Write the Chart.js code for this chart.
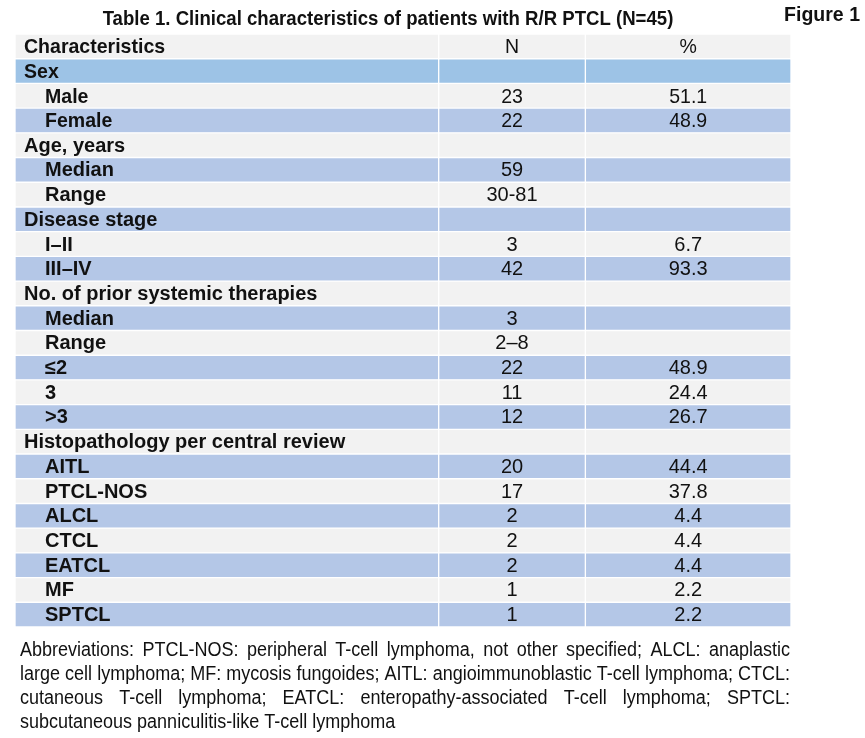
<!DOCTYPE html>
<html>
<head>
<meta charset="utf-8">
<script src="https://cdn.jsdelivr.net/npm/chart.js@4.4.1/dist/chart.umd.min.js"></script>
<style>
  html, body { margin: 0; padding: 0; background: #fff; }
</style>
</head>
<body>
<canvas id="tbl" width="865" height="738"></canvas>
<script>
// table content, one entry per row (row 0 is the header)
const rowLabels = ['Characteristics', 'Sex', 'Male', 'Female', 'Age, years', 'Median', 'Range',
  'Disease stage', 'I–II', 'III–IV', 'No. of prior systemic therapies', 'Median', 'Range',
  '≤2', '3', '>3', 'Histopathology per central review', 'AITL', 'PTCL-NOS', 'ALCL', 'CTCL',
  'EATCL', 'MF', 'SPTCL'];
const nValues = ['N', '', '23', '22', '', '59', '30-81', '', '3', '42', '', '3', '2–8',
  '22', '11', '12', '', '20', '17', '2', '2', '2', '1', '1'];
const pctValues = ['%', '', '51.1', '48.9', '', '', '', '', '6.7', '93.3', '', '', '',
  '48.9', '24.4', '26.7', '', '44.4', '37.8', '4.4', '4.4', '4.4', '2.2', '2.2'];
const sectionRows = [0, 1, 4, 7, 10, 16];

const titleText = 'Table 1. Clinical characteristics of patients with R/R PTCL (N=45)';
const figureText = 'Figure 1';
const footnoteLines = [
  'Abbreviations: PTCL-NOS: peripheral T-cell lymphoma, not other specified; ALCL: anaplastic',
  'large cell lymphoma; MF: mycosis fungoides; AITL: angioimmunoblastic T-cell lymphoma; CTCL:',
  'cutaneous T-cell lymphoma; EATCL: enteropathy-associated T-cell lymphoma; SPTCL:',
  'subcutaneous panniculitis-like T-cell lymphoma'
];

// column edges on a 0-100 x scale
const colEdges = [0, 54.6, 73.5, 100];
const FONT = '"Liberation Sans", Arial, sans-serif';

function rowFill(i) {
  if (i === 1) return '#9dc3e6';
  return i % 2 ? '#b4c7e7' : '#f2f2f2';
}

// squeeze < 1 fakes the condensed face used in the top rows
function text(ctx, str, x, y, size, bold, align, squeeze) {
  ctx.save();
  ctx.font = (bold ? 'bold ' : '') + size + 'px ' + FONT;
  ctx.textAlign = align;
  ctx.textBaseline = 'middle';
  ctx.translate(x, y);
  ctx.scale(squeeze || 1, 1);
  ctx.fillText(str, 0, 0);
  ctx.restore();
}

function justified(ctx, str, x, y, width, size, squeeze, last) {
  ctx.save();
  ctx.font = size + 'px ' + FONT;
  ctx.textBaseline = 'middle';
  ctx.translate(x, y);
  ctx.scale(squeeze, 1);
  const words = str.split(' ');
  const w = width / squeeze;
  const total = words.reduce((s, wd) => s + ctx.measureText(wd).width, 0);
  const space = ctx.measureText(' ').width;
  const gap = last ? space : Math.max(space * 0.6, (w - total) / (words.length - 1));
  let cx = 0;
  words.forEach(wd => {
    ctx.fillText(wd, cx, 0);
    cx += ctx.measureText(wd).width + gap;
  });
  ctx.restore();
}

const tableText = {
  id: 'tableText',
  afterDatasetsDraw(chart) {
    const { ctx, chartArea } = chart;
    const xs = chart.scales.x, ys = chart.scales.y;
    ctx.fillStyle = '#111';
    const nX = xs.getPixelForValue((colEdges[1] + colEdges[2]) / 2);
    const pX = xs.getPixelForValue((colEdges[2] + colEdges[3]) / 2);
    rowLabels.forEach((lab, i) => {
      const y = ys.getPixelForValue(i) + 1;
      const narrow = i < 4;
      const size = narrow ? 21 : 20;
      const sq = narrow ? 0.93 : 1;
      const section = sectionRows.includes(i);
      text(ctx, lab, chartArea.left + (section ? 9 : 30), y, size, true, 'left', sq);
      text(ctx, nValues[i], nX, y, size, false, 'center', sq);
      text(ctx, pctValues[i], pX, y, size, false, 'center', sq);
    });

    text(ctx, titleText, 388, 19, 20, true, 'center', 0.93);
    text(ctx, figureText, 860, 15, 21, true, 'right', 0.93);

    footnoteLines.forEach((ln, k) => {
      justified(ctx, ln, 20, 650 + k * 24, 770, 20, 0.9, k === footnoteLines.length - 1);
    });
  }
};

const columnSets = [0, 1, 2].map(c => ({
  data: rowLabels.map(() => [colEdges[c], colEdges[c + 1]]),
  backgroundColor: rowLabels.map((_, i) => rowFill(i)),
  borderColor: '#ffffff',
  borderWidth: 1,
  borderSkipped: false,
  grouped: false,
  barPercentage: 1,
  categoryPercentage: 1
}));

new Chart(document.getElementById('tbl').getContext('2d'), {
  type: 'bar',
  data: {
    labels: rowLabels.map((_, i) => i),
    datasets: columnSets
  },
  options: {
    indexAxis: 'y',
    responsive: false,
    animation: false,
    devicePixelRatio: 1,
    layout: { padding: { left: 15, right: 74, top: 34, bottom: 111 } },
    scales: {
      x: { type: 'linear', min: 0, max: 100, display: false },
      y: { type: 'category', display: false }
    },
    plugins: {
      legend: { display: false },
      tooltip: { enabled: false },
      title: { display: false }
    }
  },
  plugins: [tableText]
});
</script>
</body>
</html>
